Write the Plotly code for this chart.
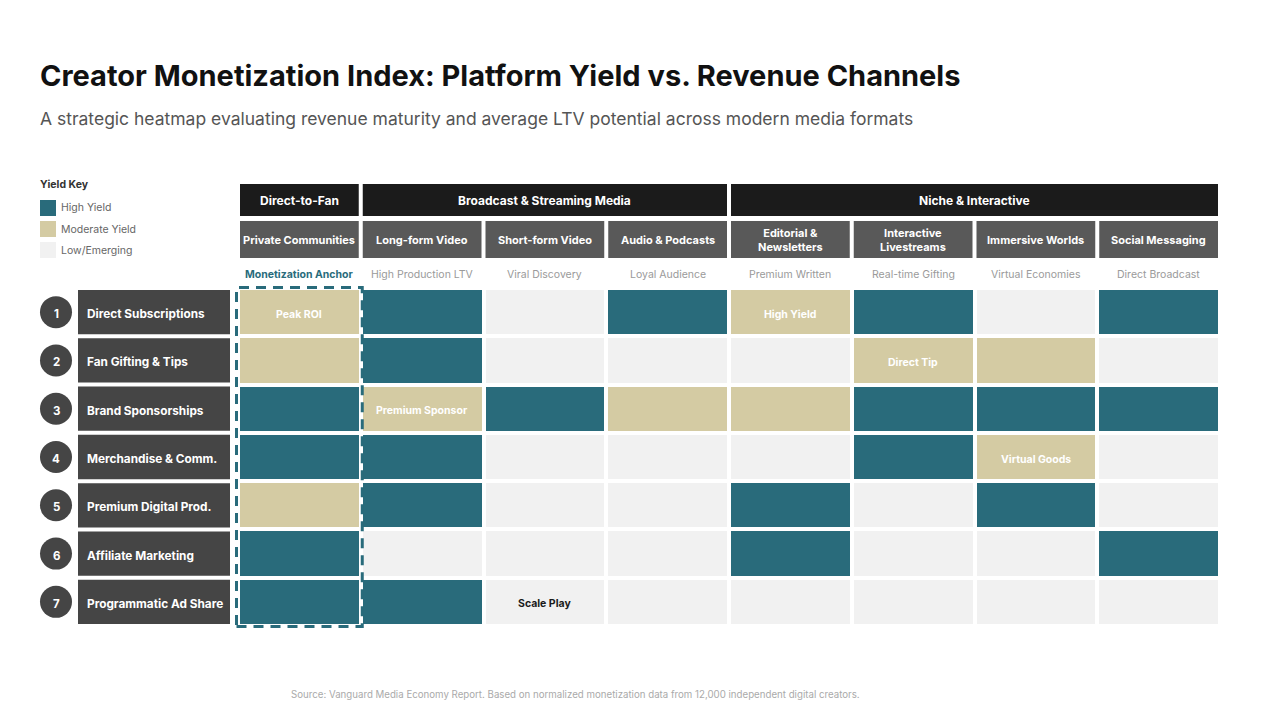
import plotly.graph_objects as go

# ---------------- data ----------------
columns = ["Private Communities", "Long-form Video", "Short-form Video", "Audio & Podcasts",
           "Editorial &<br>Newsletters", "Interactive<br>Livestreams", "Immersive Worlds", "Social Messaging"]
column_notes = ["Monetization Anchor", "High Production LTV", "Viral Discovery", "Loyal Audience",
                "Premium Written", "Real-time Gifting", "Virtual Economies", "Direct Broadcast"]
groups = ["Direct-to-Fan", "Broadcast & Streaming Media", "Niche & Interactive"]
group_spans = [(0, 0), (1, 3), (4, 7)]
rows = ["Direct Subscriptions", "Fan Gifting & Tips", "Brand Sponsorships", "Merchandise & Comm.",
        "Premium Digital Prod.", "Affiliate Marketing", "Programmatic Ad Share"]
# 2 = High Yield, 1 = Moderate Yield, 0 = Low/Emerging
yield_levels = [
    [1, 2, 0, 2, 1, 2, 0, 2],
    [1, 2, 0, 0, 0, 1, 1, 0],
    [2, 1, 2, 1, 1, 2, 2, 2],
    [2, 2, 0, 0, 0, 2, 1, 0],
    [1, 2, 0, 0, 2, 0, 2, 0],
    [2, 0, 0, 0, 2, 0, 0, 2],
    [2, 2, 0, 0, 0, 0, 0, 0],
]
callouts = [(0, 0, "Peak ROI"), (0, 4, "High Yield"), (1, 5, "Direct Tip"),
            (2, 1, "Premium Sponsor"), (3, 6, "Virtual Goods"), (6, 2, "Scale Play")]
legend_labels = ["High Yield", "Moderate Yield", "Low/Emerging"]

# ---------------- style ----------------
W, H = 1280, 720
FONT = "Inter"
TEAL, TAN, LIGHT = "#296b7b", "#d4cba3", "#f1f1f1"
DARK, HEAD2, ROWBOX = "#1b1b1b", "#595959", "#454545"
level_colors = {2: TEAL, 1: TAN, 0: LIGHT}

def px(x):
    return x / W

def py(y):
    return 1 - y / H

grid_left, grid_right = 238, 1220
grid_top, grid_bottom = 288, 626
ncol, nrow = len(columns), len(rows)
pitch_x = (grid_right - grid_left) / ncol
pitch_y = (grid_bottom - grid_top) / nrow
gx = 2 / pitch_x
gy = 2 / pitch_y

fig = go.Figure()
fig.add_trace(go.Heatmap(
    z=yield_levels,
    x=list(range(ncol)),
    y=list(range(nrow)),
    zmin=0, zmax=2,
    colorscale=[[0, LIGHT], [0.333, LIGHT], [0.333, TAN], [0.667, TAN], [0.667, TEAL], [1, TEAL]],
    showscale=False, xgap=4, ygap=4, hoverinfo="skip",
))

shapes = []
annotations = []

def ann(x, y, text, size, color, xanchor="left", xref="paper", yref="paper", yshift=0):
    annotations.append(dict(x=x, y=y, xref=xref, yref=yref, xanchor=xanchor, yanchor="middle",
                            text=text, showarrow=False, borderpad=0, yshift=yshift,
                            font=dict(family=FONT, size=size, color=color)))

# title/subtitle
ann(px(39), py(76), "<b>Creator Monetization Index: Platform Yield vs. Revenue Channels</b>", 29, "#111111")
ann(px(39), py(119), "A strategic heatmap evaluating revenue maturity and average LTV potential across modern media formats",
    17.5, "#555555")

# legend
ann(px(39), py(184), "<b>Yield Key</b>", 10.5, "#333333")
for i, (lab, lev) in enumerate(zip(legend_labels, [2, 1, 0])):
    top = 200 + i * 21
    shapes.append(dict(type="rect", xref="paper", yref="paper", x0=px(40), x1=px(56), y0=py(top + 16), y1=py(top),
                       fillcolor=level_colors[lev], line=dict(width=0)))
    ann(px(60), py(top + 8), lab, 10.5, "#666666")

# group headers
for g, (a, b) in zip(groups, group_spans):
    shapes.append(dict(type="rect", xref="x", yref="paper", x0=a - 0.5 + gx, x1=b + 0.5 - gx,
                       y0=py(216), y1=py(184), fillcolor=DARK, line=dict(width=0), layer="below"))
    ann((a + b) / 2, py(200), "<b>%s</b>" % g, 12, "white", xanchor="center", xref="x")

# column headers and notes
for j, (c, n) in enumerate(zip(columns, column_notes)):
    shapes.append(dict(type="rect", xref="x", yref="paper", x0=j - 0.5 + gx, x1=j + 0.5 - gx,
                       y0=py(258), y1=py(221), fillcolor=HEAD2, line=dict(width=0), layer="below"))
    ann(j, py(239.5), "<b>%s</b>" % c, 11, "white", xanchor="center", xref="x")
    if j == 0:
        ntext, ncolor = "<b>%s</b>" % n, TEAL
    else:
        ntext, ncolor = n, "#9a9a9a"
    ann(j, py(274), ntext, 10.5, ncolor, xanchor="center", xref="x")

# row labels
for i, r in enumerate(rows):
    shapes.append(dict(type="rect", xref="paper", yref="y", x0=px(78), x1=px(230),
                       y0=i - 0.5 + gy, y1=i + 0.5 - gy, fillcolor=ROWBOX, line=dict(width=0)))
    shapes.append(dict(type="circle", xref="paper", yref="y", xsizemode="pixel", ysizemode="pixel",
                       xanchor=px(56), yanchor=i, x0=-16, x1=16, y0=-16, y1=16,
                       fillcolor=ROWBOX, line=dict(width=0)))
    ann(px(56), i, "<b>%d</b>" % (i + 1), 11.5, "white", xanchor="center", yref="y", yshift=-2)
    ann(px(86), i, "<b>%s</b>" % r, 11.8, "white", yref="y", yshift=-2)

# callouts
for (i, j, t) in callouts:
    col = "white" if yield_levels[i][j] > 0 else "#1b1b1b"
    ann(j, i, "<b>%s</b>" % t, 10.5, col, xanchor="center", xref="x", yref="y", yshift=-2)

# highlight box around anchor column (paper coords, derived from the grid geometry)
hb_x0 = grid_left - 1.5
hb_x1 = grid_left + pitch_x + 1.5
hb_y0 = grid_top - 0.5
hb_y1 = grid_bottom + 0.5
shapes.append(dict(type="rect", xref="paper", yref="paper",
                   x0=px(hb_x0), x1=px(hb_x1), y0=py(hb_y1), y1=py(hb_y0),
                   fillcolor="rgba(0,0,0,0)", line=dict(color=TEAL, width=3, dash="10px,7px"), layer="above"))

# source
ann(px(575), py(694),
    "Source: Vanguard Media Economy Report. Based on normalized monetization data from 12,000 independent digital creators.",
    9.7, "#aaaaaa", xanchor="center")

fig.update_layout(
    width=W, height=H, margin=dict(l=0, r=0, t=0, b=0),
    paper_bgcolor="white", plot_bgcolor="white",
    xaxis=dict(domain=[px(grid_left), px(grid_right)], range=[-0.5, ncol - 0.5], visible=False, fixedrange=True),
    yaxis=dict(domain=[py(grid_bottom), py(grid_top)], range=[nrow - 0.5, -0.5], visible=False, fixedrange=True),
    shapes=shapes, annotations=annotations, showlegend=False,
)

fig.write_html("out.html")
